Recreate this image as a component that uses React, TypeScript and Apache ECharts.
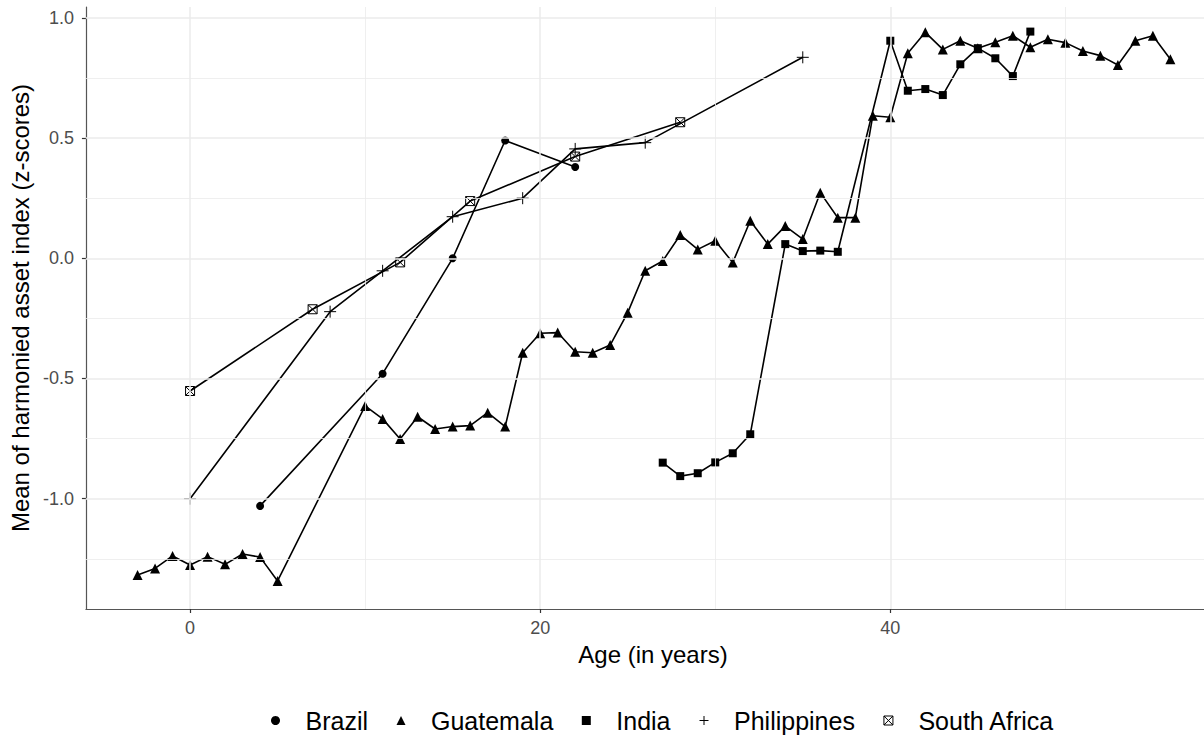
import React, { useEffect, useRef } from "react";
import * as echarts from "echarts";

// ---- data ----
const brazilAge = [4, 11, 15, 18, 22];
const brazilValue = [-1.03, -0.48, 0.0, 0.49, 0.38];

const guatemalaAge = [-3, -2, -1, 0, 1, 2, 3, 4, 5, 10, 11, 12, 13, 14, 15, 16, 17, 18, 19, 20, 21, 22, 23, 24, 25, 26, 27, 28, 29, 30, 31, 32, 33, 34, 35, 36, 37, 38, 39, 40, 41, 42, 43, 44, 45, 46, 47, 48, 49, 50, 51, 52, 53, 54, 55, 56];
const guatemalaValue = [-1.317, -1.29, -1.238, -1.276, -1.241, -1.273, -1.23, -1.243, -1.342, -0.614, -0.668, -0.752, -0.659, -0.71, -0.7, -0.696, -0.642, -0.7, -0.393, -0.312, -0.309, -0.389, -0.393, -0.361, -0.226, -0.052, -0.011, 0.097, 0.037, 0.073, -0.018, 0.156, 0.059, 0.134, 0.08, 0.273, 0.169, 0.169, 0.593, 0.587, 0.853, 0.94, 0.869, 0.905, 0.874, 0.899, 0.926, 0.878, 0.911, 0.897, 0.862, 0.843, 0.804, 0.905, 0.926, 0.828];

const indiaAge = [27, 28, 29, 30, 31, 32, 34, 35, 36, 37, 40, 41, 42, 43, 44, 45, 46, 47, 48];
const indiaValue = [-0.85, -0.906, -0.894, -0.849, -0.811, -0.732, 0.059, 0.03, 0.032, 0.027, 0.905, 0.697, 0.704, 0.679, 0.807, 0.874, 0.832, 0.758, 0.943];

const philippinesAge = [0, 8, 11, 15, 19, 22, 26, 35];
const philippinesValue = [-1.0, -0.222, -0.052, 0.173, 0.25, 0.455, 0.481, 0.836];

const southAfricaAge = [0, 7, 12, 16, 22, 28];
const southAfricaValue = [-0.552, -0.212, -0.017, 0.238, 0.423, 0.566];

const countries = ["Brazil", "Guatemala", "India", "Philippines", "South Africa"];

const xTicks = [0, 20, 40];
const xMinor = [10, 30, 50];
const yTicks = [-1.0, -0.5, 0.0, 0.5, 1.0];
const yMinor = [-1.25, -0.75, -0.25, 0.25, 0.75];

const X_MIN = -5.95;
const X_MAX = 57.92;
const Y_MIN = -1.4588;
const Y_MAX = 1.0453;

const FONT = "'Liberation Sans', Arial, Helvetica, sans-serif";

const PLUS = "path://M5,0 L5,10 M0,5 L10,5";
const BOXX = "path://M0,0 L10,0 L10,10 L0,10 Z M0,0 L10,10 M10,0 L0,10";

function pairs(a: number[], b: number[]) {
  return a.map((x, i) => [x, b[i]]);
}

export default function App() {
  const ref = useRef<HTMLDivElement>(null);

  useEffect(() => {
    if (!ref.current) return;
    const chart = echarts.init(ref.current, undefined, { renderer: "svg" });

    const filled = { color: "#000" };
    const hollow = { color: "transparent", borderColor: "#000", borderWidth: 1 };
    const line = { color: "#000", width: 1.6 };

    const mkSeries = (name: string, data: number[][], symbol: string, size: number, itemStyle: any) => ({
      name,
      type: "line",
      data,
      symbol,
      symbolSize: size,
      symbolKeepAspect: true,
      showSymbol: true,
      showAllSymbol: true,
      itemStyle,
      lineStyle: line,
      z: 3,
      emphasis: { disabled: true },
    });

    const grid = "#ebebeb";

    const option: any = {
      animation: false,
      backgroundColor: "#fff",
      grid: { left: 85, top: 7, right: 0, bottom: 131, containLabel: false },
      graphic: [
        {
          type: "text",
          silent: true,
          style: {
            text: "Age (in years)",
            x: 653,
            y: 654,
            align: "center",
            verticalAlign: "middle",
            fontSize: 24,
            fill: "#000",
            fontFamily: FONT,
          },
        },
      ],
      xAxis: {
        type: "value",
        min: X_MIN,
        max: X_MAX,
        axisLine: { show: true, onZero: false, lineStyle: { color: "#555", width: 1.2 } },
        axisTick: { show: true, length: 4, customValues: xTicks, lineStyle: { color: "#333", width: 1.2 } },
        axisLabel: { show: true, customValues: xTicks, margin: 10, fontSize: 18, color: "#4d4d4d", fontFamily: FONT },
        splitLine: { show: false },
      },
      yAxis: {
        type: "value",
        min: Y_MIN,
        max: Y_MAX,
        name: "Mean of harmonied asset index (z-scores)",
        nameLocation: "middle",
        nameRotate: 90,
        nameGap: 45,
        nameTextStyle: { fontSize: 24, color: "#000", fontFamily: FONT },
        axisLine: { show: true, onZero: false, lineStyle: { color: "#555", width: 1.2 } },
        axisTick: { show: true, length: 4, customValues: yTicks, lineStyle: { color: "#333", width: 1.2 } },
        axisLabel: {
          show: true,
          customValues: yTicks,
          margin: 12,
          fontSize: 18,
          color: "#4d4d4d",
          fontFamily: FONT,
          formatter: (v: number) => v.toFixed(1),
        },
        splitLine: { show: false },
      },
      legend: {
        orient: "horizontal",
        left: 271,
        top: 708,
        padding: 0,
        itemWidth: 9,
        itemHeight: 9,
        itemGap: 28.5,
        symbolKeepAspect: true,
        selectedMode: false,
        textStyle: { fontSize: 25, color: "#000", fontFamily: FONT, padding: [0, 0, 0, 20.5] },
        data: [
          { name: countries[0], icon: "circle", itemStyle: { color: "#000", borderWidth: 0 } },
          { name: countries[1], icon: "triangle", itemStyle: { color: "#000", borderWidth: 0 } },
          { name: countries[2], icon: "rect", itemStyle: { color: "#000", borderWidth: 0 } },
          { name: countries[3], icon: PLUS, itemStyle: { color: "transparent", borderColor: "#000", borderWidth: 1 } },
          { name: countries[4], icon: BOXX, itemStyle: { color: "transparent", borderColor: "#000", borderWidth: 1 } },
        ],
      },
      series: [
        {
          name: "grid",
          type: "line",
          data: [],
          z: 1,
          silent: true,
          markLine: {
            silent: true,
            symbol: ["none", "none"],
            label: { show: false },
            animation: false,
            emphasis: { disabled: true },
            data: [
              ...xMinor.map((v) => ({ xAxis: v, lineStyle: { color: grid, width: 0.8, type: "solid" } })),
              ...yMinor.map((v) => ({ yAxis: v, lineStyle: { color: grid, width: 0.8, type: "solid" } })),
              ...xTicks.map((v) => ({ xAxis: v, lineStyle: { color: grid, width: 1.5, type: "solid" } })),
              ...yTicks.map((v) => ({ yAxis: v, lineStyle: { color: grid, width: 1.5, type: "solid" } })),
            ],
          },
        },
        mkSeries(countries[0], pairs(brazilAge, brazilValue), "circle", 8, filled),
        mkSeries(countries[1], pairs(guatemalaAge, guatemalaValue), "triangle", 10, filled),
        mkSeries(countries[2], pairs(indiaAge, indiaValue), "rect", 8, filled),
        mkSeries(countries[3], pairs(philippinesAge, philippinesValue), PLUS, 12, hollow),
        mkSeries(countries[4], pairs(southAfricaAge, southAfricaValue), BOXX, 9, hollow),
      ],
    };

    chart.setOption(option);
    return () => {
      chart.dispose();
    };
  }, []);

  return (
    <div
      ref={ref}
      style={{ position: "fixed", left: 0, top: 0, width: 1204, height: 740, background: "#fff" }}
    />
  );
}
